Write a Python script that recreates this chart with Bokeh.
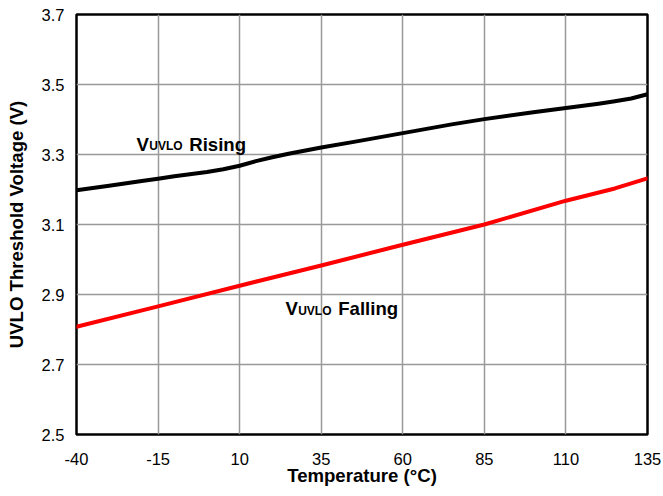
from bokeh.plotting import figure
from bokeh.models import Range1d, FixedTicker, Label
from bokeh.embed import file_html
from bokeh.resources import INLINE

# ---- data ----
temp_rising = [-40, -30, -20, -15, -10, 0, 5, 10, 15, 20, 25, 35, 45, 60, 75, 85, 100, 110, 120, 125, 130, 135]
v_rising = [3.198, 3.211, 3.224, 3.231, 3.238, 3.250, 3.258, 3.268, 3.281, 3.292, 3.302, 3.320, 3.336, 3.361,
            3.386, 3.401, 3.421, 3.433, 3.445, 3.452, 3.460, 3.472]
temp_falling = [-40, -15, 10, 35, 60, 85, 110, 125, 135]
v_falling = [2.808, 2.866, 2.925, 2.983, 3.042, 3.100, 3.168, 3.203, 3.232]

x_ticks = [-40, -15, 10, 35, 60, 85, 110, 135]
y_ticks = [2.5, 2.7, 2.9, 3.1, 3.3, 3.5, 3.7]

FONT = "Liberation Sans"

p = figure(width=663, height=496, output_backend="svg", toolbar_location=None,
           x_range=Range1d(-40, 135), y_range=Range1d(2.5, 3.7),
           min_border_left=76, min_border_right=16, min_border_top=14, min_border_bottom=62)

p.background_fill_color = "white"
p.border_fill_color = "white"
p.outline_line_color = "black"
p.outline_line_width = 2.5

for ax in (p.xaxis[0], p.yaxis[0]):
    ax.axis_line_color = None
    ax.major_tick_line_color = None
    ax.minor_tick_line_color = None
    ax.major_tick_out = 0
    ax.major_tick_in = 0
    ax.major_label_text_font = FONT
    ax.major_label_text_font_size = "16.5px"
    ax.major_label_text_color = "black"
    ax.axis_label_text_font = FONT
    ax.axis_label_text_font_size = "18.6px"
    ax.axis_label_text_font_style = "bold"
    ax.axis_label_text_color = "black"

p.xaxis.ticker = FixedTicker(ticks=x_ticks)
p.yaxis.ticker = FixedTicker(ticks=y_ticks)
p.xaxis.major_label_overrides = {t: str(t) for t in x_ticks}
p.yaxis.major_label_overrides = {t: f"{t:.1f}" for t in y_ticks}
p.xaxis.axis_label = "Temperature (°C)"
p.yaxis.axis_label = "UVLO Threshold Voltage (V)"
p.xaxis.major_label_standoff = 18
p.yaxis.major_label_standoff = 12
p.xaxis.axis_label_standoff = -3
p.yaxis.axis_label_standoff = 12

p.xgrid.ticker = FixedTicker(ticks=x_ticks)
p.ygrid.ticker = FixedTicker(ticks=y_ticks)
for g in (p.xgrid[0], p.ygrid[0]):
    g.grid_line_color = "#999999"
    g.grid_line_width = 1.5

p.line(temp_rising, v_rising, line_width=4, line_color="black", line_join="round", line_cap="round")
p.line(temp_falling, v_falling, line_width=4, line_color="#ff0000", line_join="round", line_cap="round")

# curve names: white boxes first, then the texts on top
names = [(-21.6, 3.330, "Rising", 6, 6), (24.05, 2.859, "Falling", 9, 17)]
parts = lambda word: [("V", "18.6px", 0, 0), ("UVLO", "12px", 12.7, -2), (word, "18.6px", 52.7, 0)]

for x, y, word, pl, pr in names:
    for i, (txt, size, dx, dy) in enumerate(parts(word)):
        pad = (5, 6, 4, pl) if i == 0 else ((5, 6, 4, 1) if i == 1 else (5, pr, 4, 4))
        p.add_layout(Label(x=x, y=y, x_offset=dx, y_offset=dy, text=txt, text_font=FONT,
                           text_font_size=size, text_font_style="bold", text_alpha=0,
                           text_baseline="alphabetic", background_fill_color="white",
                           padding=pad))
for x, y, word, pl, pr in names:
    for txt, size, dx, dy in parts(word):
        p.add_layout(Label(x=x, y=y, x_offset=dx, y_offset=dy, text=txt, text_font=FONT,
                           text_font_size=size, text_font_style="bold", text_color="black",
                           text_baseline="alphabetic"))

open("out.html", "w").write(file_html(p, INLINE))
